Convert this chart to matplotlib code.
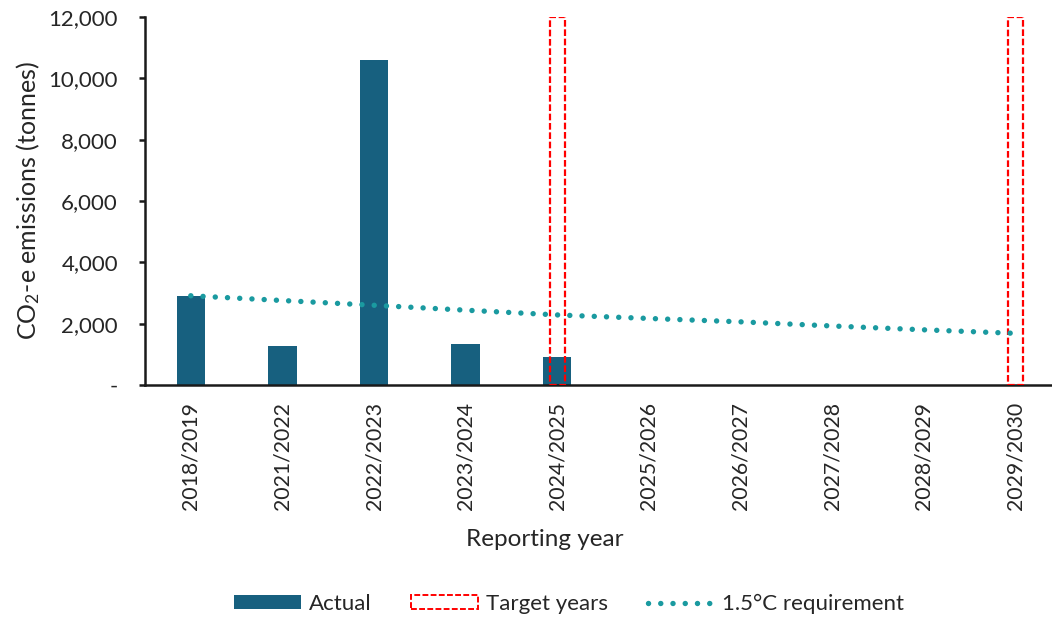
import matplotlib
matplotlib.use("Agg")
import matplotlib.pyplot as plt
from matplotlib.patches import Patch
from matplotlib.lines import Line2D
from matplotlib.ticker import FuncFormatter

plt.rcParams['font.family'] = ['Lato', 'DejaVu Sans']
plt.rcParams['mathtext.fontset'] = 'custom'
plt.rcParams['mathtext.rm'] = 'Lato'
plt.rcParams['mathtext.it'] = 'Lato:italic'

# Data
years = ["2018/2019", "2021/2022", "2022/2023", "2023/2024", "2024/2025",
         "2025/2026", "2026/2027", "2027/2028", "2028/2029", "2029/2030"]
actual = [2900, 1280, 10600, 1340, 920, None, None, None, None, None]
target_years = ["2024/2025", "2029/2030"]
requirement = [2910, 2755, 2600, 2440, 2285, 2170, 2060, 1925, 1800, 1685]
y_max = 12000

bar_color = "#17607F"
dot_color = "#1A9AA0"
target_color = "#FF0000"
text_color = "#262626"

fig = plt.figure(figsize=(10.52, 6.18), dpi=100)
W, H = 1052, 618
ax = fig.add_axes([145 / W, (H - 385) / H, 916 / W, 368 / H])

x = list(range(len(years)))
ax.bar([i for i, v in zip(x, actual) if v is not None],
       [v for v in actual if v is not None],
       width=0.31, color=bar_color, zorder=2)

# Target-year outlines spanning the full height
tx = [years.index(t) for t in target_years]
ax.bar(tx, [y_max] * len(tx), width=0.165, fill=False, edgecolor=target_color,
       linewidth=1.6, linestyle=(0, (3, 1.2)), zorder=3)

# 1.5°C pathway
ax.plot(x, requirement, color=dot_color, linewidth=3.9,
        linestyle=(0, (0.01, 2.25)), dash_capstyle='round', zorder=4)

ax.set_xlim(-0.5, len(years) - 0.5)
ax.set_ylim(0, y_max)
ax.set_yticks(range(0, y_max + 1, 2000))
ax.yaxis.set_major_formatter(FuncFormatter(lambda v, p: "-" if v == 0 else f"{int(v):,}"))
ax.set_xticks(x)
ax.set_xticklabels(years, rotation=90)

for s in ("top", "right"):
    ax.spines[s].set_visible(False)
for s in ("left", "bottom"):
    ax.spines[s].set_linewidth(1.8)
    ax.spines[s].set_color("#1a1a1a")

ax.tick_params(axis='y', length=4.5, width=1.8, pad=15, labelsize=16,
               labelcolor=text_color, color="#1a1a1a")
ax.tick_params(axis='x', length=0, pad=12, labelsize=15.3, labelcolor=text_color)

ax.set_ylabel(r"CO$_2$-e emissions (tonnes)", fontsize=18, color=text_color)
ax.yaxis.set_label_coords(-(145 - 28) / 916, 0.5)
ax.set_xlabel("Reporting year", fontsize=17.5, color=text_color)
ax.xaxis.set_label_coords((545 - 145) / 916, -(540 - 385) / 368)
ax.xaxis.label.set_va('center')
ax.yaxis.label.set_va('center')

handles = [
    Patch(facecolor=bar_color, edgecolor='none', label="Actual"),
    Patch(facecolor='none', edgecolor=target_color, linestyle=(0, (3, 1.2)),
          linewidth=1.4, label="Target years"),
    Line2D([0], [0], color=dot_color, linewidth=3.9, linestyle=(0, (0.01, 2.25)),
           dash_capstyle='round', label="1.5°C requirement"),
]
fig.legend(handles=handles, loc='center', bbox_to_anchor=(569 / W, 1 - 604 / H),
           ncol=3, frameon=False, fontsize=16, handlelength=3.0, handleheight=0.6,
           columnspacing=1.8, handletextpad=0.35, labelcolor=text_color)

fig.savefig("out.png", dpi=100)
